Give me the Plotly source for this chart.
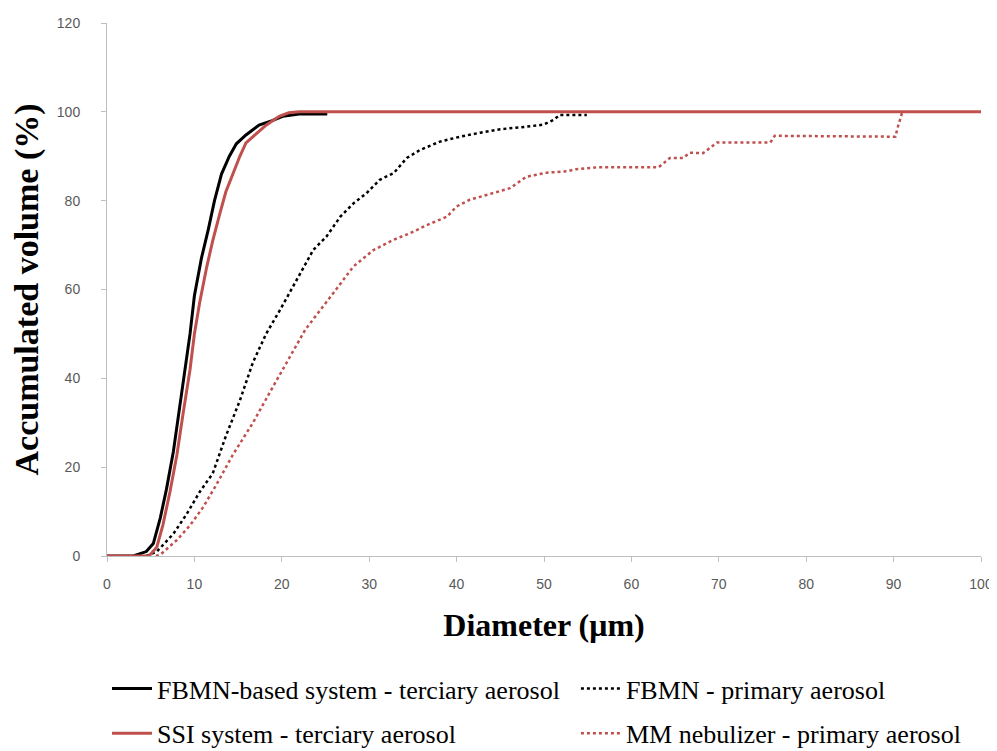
import plotly.graph_objects as go

# FBMN-based system - terciary aerosol (black solid)
fbmn_sys_x = [0, 3.0, 4.5, 5.3, 6.1, 6.8, 7.6, 8.3, 8.9, 9.5, 10.0, 10.8, 11.6, 12.3, 13.1, 14.0, 14.8, 15.9, 17.4, 18.9, 20.1, 22.0, 25.2]
fbmn_sys_y = [0, 0, 1, 2.8, 8.6, 15, 23.6, 33.6, 42, 50, 58.6, 67, 73.6, 80, 86, 90, 92.8, 94.8, 97, 98, 99, 99.5, 99.5]

# SSI system - terciary aerosol (red solid)
ssi_x = [0, 4.8, 5.7, 6.4, 7.2, 8.0, 8.7, 9.5, 10.0, 10.6, 11.4, 12.1, 12.9, 13.6, 14.4, 15.2, 15.9, 17.0, 18.2, 19.7, 20.8, 22.0, 100]
ssi_y = [0, 0, 2, 7, 14.4, 22.8, 32, 42, 50, 57, 65, 71, 77, 82, 86, 90, 93, 95, 97, 99, 99.8, 100, 100]

# FBMN - primary aerosol (black dotted)
fbmn_pri_x = [4.5, 5.7, 7.6, 9.1, 10.6, 12.1, 13.6, 15.2, 16.7, 18.2, 19.8, 22.1, 23.6, 25.1, 26.7, 28.2, 29.7, 31.2, 32.8, 34.3, 35.8, 38.1, 40.4, 42.7, 45.0, 47.3, 49.9, 51.1, 51.8, 54.9]
fbmn_pri_y = [0, 1, 5, 9.4, 14.4, 18.6, 27, 35, 43.6, 50, 55.4, 63.7, 68.9, 71.9, 76.4, 79.4, 81.7, 84.7, 86.2, 89.6, 91.4, 93.3, 94.4, 95.3, 96.1, 96.5, 97.1, 98.2, 99.3, 99.3]

# MM nebulizer - primary aerosol (red dotted)
mm_x = [5.6, 6.1, 8.0, 9.5, 11.0, 12.5, 14.4, 16.7, 18.9, 20.8, 22.7, 25.9, 28.2, 30.5, 32.8, 34.7, 36.6, 38.9, 40.0, 41.5, 44.2, 46.1, 48.0, 50.3, 52.6, 53.7, 56.0, 63.1, 64.4, 65.9, 66.7, 68.2, 69.8, 75.9, 76.4, 90.2, 90.5, 90.8, 91.0]
mm_y = [0, 0.3, 3.6, 6.9, 11, 16, 22.8, 30, 37.8, 44.4, 51, 59.2, 65.2, 68.9, 71.2, 72.7, 74.5, 76.4, 78.7, 80.2, 81.7, 82.8, 85.4, 86.3, 86.6, 87.1, 87.5, 87.5, 89.6, 89.6, 90.8, 90.7, 93.1, 93.1, 94.6, 94.4, 96.7, 98.8, 100]

x_ticks = [0, 10, 20, 30, 40, 50, 60, 70, 80, 90, 100]
y_ticks = [0, 20, 40, 60, 80, 100, 120]

BLACK = "#000000"
RED = "#C0504D"
SERIF = "Liberation Serif, Times New Roman, serif"

fig = go.Figure()
fig.add_trace(go.Scatter(x=fbmn_sys_x, y=fbmn_sys_y, mode="lines",
                         name="FBMN-based system - terciary aerosol",
                         line=dict(color=BLACK, width=3), legend="legend", legendgroup="a"))
fig.add_trace(go.Scatter(x=fbmn_pri_x, y=fbmn_pri_y, mode="lines",
                         name="FBMN - primary aerosol",
                         line=dict(color=BLACK, width=2.5, dash="dot"), legend="legend2", legendgroup="b"))
fig.add_trace(go.Scatter(x=ssi_x, y=ssi_y, mode="lines",
                         name="SSI system - terciary aerosol",
                         line=dict(color=RED, width=3), legend="legend", legendgroup="c"))
fig.add_trace(go.Scatter(x=mm_x, y=mm_y, mode="lines",
                         name="MM nebulizer - primary aerosol",
                         line=dict(color=RED, width=2.5, dash="dot"), legend="legend2", legendgroup="d"))

axis_common = dict(showgrid=False, zeroline=False, showline=True, linecolor="#BFBFBF", linewidth=1,
                   ticks="outside", tickcolor="#BFBFBF", ticklen=5, automargin=False,
                   tickfont=dict(family="Liberation Sans, Arial, sans-serif", size=14, color="#595959"))

fig.update_xaxes(range=[0, 100], tickvals=x_ticks, ticktext=[str(v) for v in x_ticks],
                 ticklabelstandoff=10,
                 title=dict(text="<b>Diameter (μm)</b>", font=dict(family=SERIF, size=32, color="#000000"), standoff=22),
                 **axis_common)
fig.update_yaxes(range=[0, 120], tickvals=y_ticks, ticktext=[str(v) for v in y_ticks],
                 ticklabelstandoff=18,
                 title=dict(text="<b>Accumulated volume (%)</b>", font=dict(family=SERIF, size=34, color="#000000"), standoff=10),
                 **axis_common)

legend_common = dict(orientation="v", font=dict(family=SERIF, size=26, color="#000000"),
                     bgcolor="rgba(0,0,0,0)", tracegroupgap=8, xanchor="left", yanchor="top",
                     itemwidth=40)
# page body adds an 8px margin, so the figure is sized to fit inside the window
fig.update_layout(
    width=989, height=743,
    margin=dict(l=99, r=16, t=15, b=195, autoexpand=False),
    paper_bgcolor="white", plot_bgcolor="white",
    showlegend=True,
    legend=dict(x=0.0, y=-0.2045, **legend_common),
    legend2=dict(x=0.5365, y=-0.2045, **legend_common),
)

fig.write_html("out.html")
